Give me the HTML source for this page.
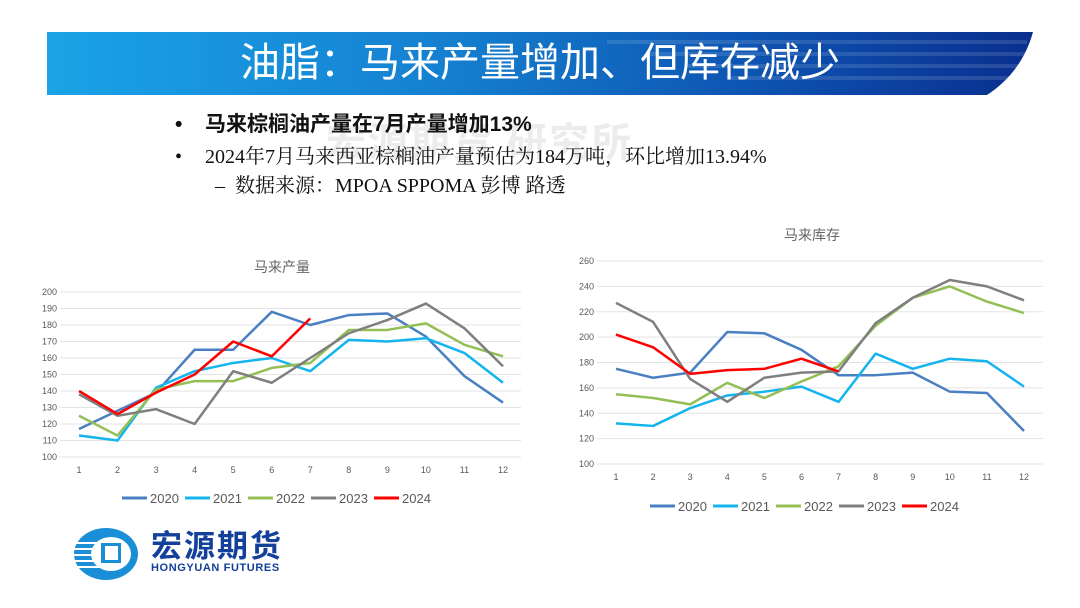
<!DOCTYPE html>
<html><head><meta charset="utf-8"><style>
body{margin:0;width:1080px;height:608px;background:#fff;position:relative;overflow:hidden;font-family:"Liberation Sans","Noto Sans CJK SC",sans-serif}
.abs{position:absolute}
</style></head><body>
<div class="abs" style="left:47px;top:32px;width:986px;height:63px;background:linear-gradient(90deg,#1aa3e6 0%,#1580d0 40%,#0d4fae 75%,#0a2f8f 100%);overflow:hidden">
<svg width="986" height="63" style="position:absolute;left:0;top:0">
<g fill="#ffffff" opacity="0.12">
<rect x="560" y="8" width="420" height="4"/><rect x="600" y="20" width="380" height="4"/><rect x="640" y="32" width="340" height="4"/><rect x="680" y="44" width="300" height="4"/>
</g>
<path d="M940 63 Q975 40 986 0 L986 63 Z" fill="#ffffff"/>
</svg>
<div class="abs" style="left:0;right:0;top:8px;line-height:46px;text-align:center;color:#fff;font-size:40px;font-family:'Liberation Sans','Noto Sans CJK SC',sans-serif">油脂：马来产量增加、但库存减少</div>
</div>
<div class="abs" style="left:326px;top:120px;font-size:40px;line-height:46px;color:#ececec;font-weight:bold;letter-spacing:2px">宏源期货 研究所</div>
<div class="abs" style="left:175px;top:113px;font-size:21px;line-height:24px;font-weight:bold;color:#111">•<span style="position:absolute;left:30px;white-space:nowrap">马来棕榈油产量在7月产量增加13%</span></div>
<div class="abs" style="left:175px;top:145px;font-size:20px;line-height:24px;color:#111;font-family:'Liberation Serif','Noto Serif CJK SC',serif">•<span style="position:absolute;left:30px;white-space:nowrap">2024年7月马来西亚棕榈油产量预估为184万吨，环比增加13.94%</span></div>
<div class="abs" style="left:215px;top:174px;font-size:20px;line-height:24px;color:#111;font-family:'Liberation Serif','Noto Serif CJK SC',serif;white-space:nowrap">–&nbsp;&nbsp;数据来源：MPOA SPPOMA 彭博 路透</div>

<svg class="abs" style="left:0;top:0" width="1080" height="608" id="charts"></svg>

<div class="abs" style="left:73px;top:527px;width:66px;height:54px">
<svg width="66" height="54"><ellipse cx="33" cy="27" rx="32" ry="26" fill="#1a8fd8"/><ellipse cx="38" cy="27" rx="20" ry="17" fill="#fff"/><rect x="28" y="16" width="20" height="20" fill="#1a8fd8"/><rect x="32" y="19" width="13" height="14" fill="#fff"/>
<g fill="#fff"><rect x="2" y="15" width="26" height="2"/><rect x="1" y="21" width="27" height="2"/><rect x="1" y="27" width="27" height="2"/><rect x="1" y="33" width="27" height="2"/><rect x="3" y="39" width="25" height="2"/></g></svg>
</div>
<div class="abs" style="left:151px;top:531px;font-size:31px;line-height:31px;font-weight:bold;color:#12409a;letter-spacing:2px">宏源期货</div>
<div class="abs" style="left:151px;top:563px;font-size:11px;line-height:11px;font-weight:bold;color:#12409a;letter-spacing:0.6px">HONGYUAN FUTURES</div>

<script>
const months=[1,2,3,4,5,6,7,8,9,10,11,12];
const years=["2020","2021","2022","2023","2024"];
const colors=["#4a7fc1","#14b4ee","#93bf55","#7f7f7f","#ff0000"];
const prod2020=[117,128,139,165,165,188,180,186,187,173,149,133];
const prod2021=[113,110,142,152,157,160,152,171,170,172,163,145];
const prod2022=[125,113,141,146,146,154,157,177,177,181,168,161];
const prod2023=[138,125,129,120,152,145,160,175,183,193,178,155];
const prod2024=[140,126,139,150,170,161,184];
const prodTicks=[100,110,120,130,140,150,160,170,180,190,200];
const inv2020=[175,168,172,204,203,190,170,170,172,157,156,126];
const inv2021=[132,130,144,154,157,161,149,187,175,183,181,161];
const inv2022=[155,152,147,164,152,165,177,209,231,240,228,219];
const inv2023=[227,212,167,149,168,172,173,211,231,245,240,229];
const inv2024=[202,192,171,174,175,183,173];
const invTicks=[100,120,140,160,180,200,220,240,260];

const NS="http://www.w3.org/2000/svg";
const svg=document.getElementById('charts');
function mk(tag,attrs,parent){const e=document.createElementNS(NS,tag);for(const k in attrs)e.setAttribute(k,attrs[k]);(parent||svg).appendChild(e);return e;}

function chart(cfg){
  const g=mk('g',{});
  
  
  const y=v=>cfg.y0+(v-cfg.vmin)/(cfg.vmax-cfg.vmin)*(cfg.y1-cfg.y0);
  const x=m=>cfg.x0+(m-1)/11*(cfg.x1-cfg.x0);
  const t=mk('text',{x:cfg.tx,y:cfg.ty,'text-anchor':'middle','font-size':14,fill:'#666'},g);
  t.textContent=cfg.title;
  
  
  cfg.ticks.forEach(v=>{
    const l=mk('line',{x1:cfg.gx0,x2:cfg.gx1,y1:y(v),y2:y(v),stroke:'#e3e3e3','stroke-width':1},g);
    
    
    const tt=mk('text',{x:cfg.gx0-3,y:y(v)+3,'text-anchor':'end','font-size':9,fill:'#595959'},g);
    tt.textContent=v;
    
    
  });
  months.forEach(m=>{
    const tt=mk('text',{x:x(m),y:cfg.xly,'text-anchor':'middle','font-size':9,fill:'#595959'},g);
    tt.textContent=m;
    
    
  });
  cfg.series.forEach((s,i)=>{
    const p=mk('polyline',{points:s.map((v,j)=>x(months[j])+','+y(v)).join(' '),fill:'none',stroke:colors[i],'stroke-width':2.5,'stroke-linejoin':'round'},g);
    
    
  });
  years.forEach((yr,i)=>{
    const lx=cfg.lx+i*63;
    const l=mk('line',{x1:lx,x2:lx+25,y1:cfg.ly,y2:cfg.ly,stroke:colors[i],'stroke-width':3},g);
    
    
    const tt=mk('text',{x:lx+28,y:cfg.ly+5,'font-size':13,fill:'#595959'},g);
    tt.textContent=yr;
    
    
  });
}
chart({name:'production-chart',title:'马来产量',tx:282,ty:272,vmin:100,vmax:200,y0:457,y1:292,x0:79,x1:503,gx0:60,gx1:521,xly:473,lx:122,ly:498,ticks:prodTicks,series:[prod2020,prod2021,prod2022,prod2023,prod2024]});
chart({name:'inventory-chart',title:'马来库存',tx:812,ty:240,vmin:100,vmax:260,y0:464,y1:261,x0:616,x1:1024,gx0:597,gx1:1043,xly:480,lx:650,ly:506,ticks:invTicks,series:[inv2020,inv2021,inv2022,inv2023,inv2024]});
</script>
</body></html>
